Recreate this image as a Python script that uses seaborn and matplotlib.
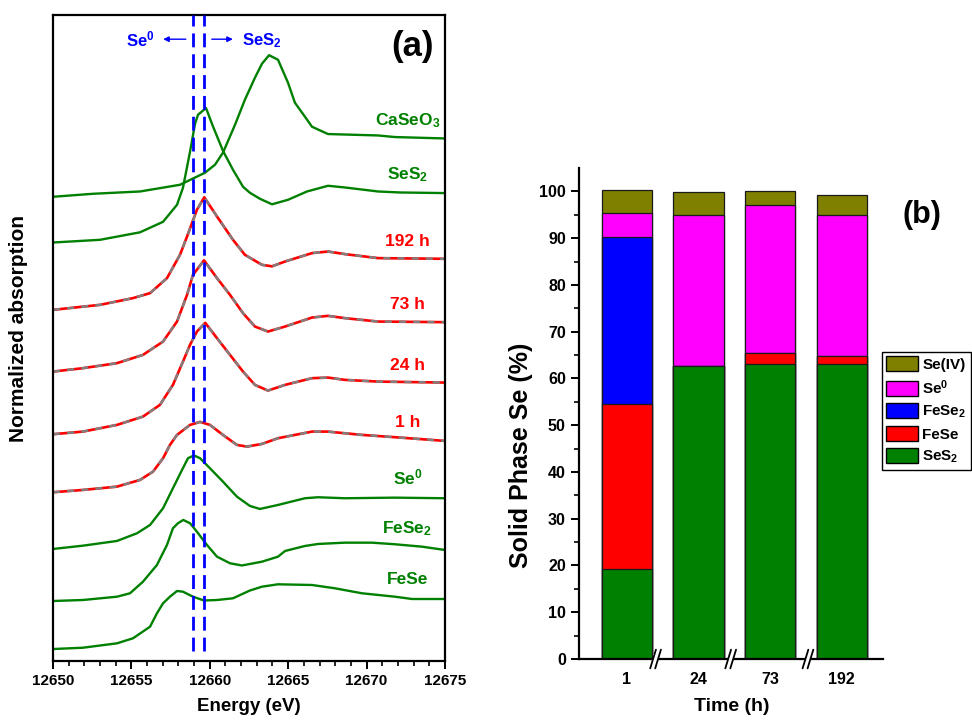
import matplotlib
matplotlib.use("Agg")
import pandas as pd
import seaborn as sns
import matplotlib.pyplot as plt
from matplotlib.patches import Patch, Rectangle

# ---- (a) Se K-edge XANES, stacked curves (energy in eV, normalized absorption + offset)
caseo3_e = [12650.0, 12652.55, 12655.55, 12658.10, 12659.69, 12660.33, 12660.84, 12661.61, 12662.24,
            12662.88, 12663.33, 12663.78, 12664.35, 12664.99, 12665.43, 12666.07, 12666.52, 12667.54,
            12670.73, 12671.81, 12675.0]
caseo3_a = [4.64, 4.67, 4.693, 4.76, 4.88, 4.96, 5.08, 5.36, 5.61, 5.83, 5.97, 6.055, 6.01, 5.78, 5.58,
            5.44, 5.34, 5.267, 5.253, 5.237, 5.223]

ses2_e = [12650.0, 12653.0, 12655.55, 12657.02, 12657.91, 12658.29, 12658.74, 12659.06, 12659.25, 12659.76,
          12660.2, 12660.84, 12661.48, 12662.12, 12662.56, 12663.2, 12663.97, 12664.99, 12666.2, 12667.54,
          12668.62, 12670.73, 12672.13, 12675.0]
ses2_a = [4.183, 4.21, 4.285, 4.39, 4.56, 4.73, 5.09, 5.37, 5.46, 5.527, 5.345, 5.10, 4.91, 4.74, 4.68,
          4.62, 4.565, 4.61, 4.693, 4.75, 4.733, 4.693, 4.683, 4.677]

h192_e = [12650.0, 12653.0, 12655.10, 12656.19, 12657.27, 12658.10, 12658.55, 12659.18, 12659.65, 12660.46,
          12661.48, 12662.24, 12663.33, 12663.97, 12664.80, 12666.52, 12667.54, 12668.62, 12670.73, 12675.0]
h192_a = [3.51, 3.56, 3.627, 3.677, 3.827, 4.06, 4.243, 4.51, 4.635, 4.443, 4.21, 4.06, 3.96, 3.945, 3.993,
          4.077, 4.093, 4.067, 4.027, 4.02]

h73_e = [12650.0, 12651.91, 12654.08, 12655.74, 12657.02, 12657.91, 12658.55, 12658.93, 12659.63, 12660.46,
         12661.29, 12662.12, 12662.88, 12663.71, 12664.80, 12666.52, 12667.54, 12668.62, 12670.73, 12675.0]
h73_a = [2.893, 2.927, 2.977, 3.06, 3.193, 3.393, 3.66, 3.86, 4.005, 3.827, 3.66, 3.477, 3.343, 3.293, 3.343,
         3.433, 3.45, 3.427, 3.393, 3.387]

h24_e = [12650.0, 12651.91, 12654.08, 12655.74, 12656.82, 12657.65, 12658.29, 12658.74, 12659.18, 12659.71,
         12660.46, 12661.29, 12662.12, 12662.88, 12663.71, 12664.80, 12666.52, 12667.54, 12668.62, 12670.73,
         12675.0]
h24_a = [2.267, 2.293, 2.36, 2.443, 2.56, 2.76, 2.993, 3.16, 3.293, 3.38, 3.227, 3.06, 2.893, 2.76, 2.703,
         2.76, 2.827, 2.833, 2.81, 2.793, 2.783]

h1_e = [12650.0, 12651.91, 12654.08, 12655.55, 12656.38, 12657.02, 12657.46, 12657.91, 12658.74, 12659.38,
        12660.01, 12660.84, 12661.73, 12662.37, 12663.33, 12664.35, 12666.52, 12667.54, 12669.71, 12671.81,
        12675.0]
h1_a = [1.687, 1.71, 1.743, 1.81, 1.893, 2.027, 2.16, 2.26, 2.36, 2.39, 2.36, 2.26, 2.16, 2.143, 2.17, 2.227,
        2.293, 2.293, 2.26, 2.237, 2.20]

se0_e = [12650.0, 12651.91, 12654.08, 12655.36, 12656.19, 12657.02, 12657.65, 12658.23, 12658.61, 12658.99,
         12659.38, 12660.01, 12660.84, 12661.73, 12662.56, 12663.20, 12664.35, 12666.07, 12666.90, 12668.62,
         12671.81, 12675.0]
se0_a = [1.12, 1.153, 1.20, 1.277, 1.36, 1.527, 1.727, 1.91, 2.027, 2.055, 2.027, 1.927, 1.793, 1.643, 1.55,
         1.52, 1.56, 1.627, 1.637, 1.627, 1.633, 1.627]

fese2_e = [12650.0, 12651.91, 12654.08, 12654.91, 12655.74, 12656.63, 12657.27, 12657.65, 12657.97, 12658.31,
           12658.74, 12659.18, 12659.82, 12660.46, 12661.29, 12662.05, 12663.33, 12664.35, 12664.80, 12666.07,
           12666.90, 12668.62, 12670.34, 12671.81, 12673.53, 12675.0]
fese2_a = [0.60, 0.61, 0.643, 0.677, 0.793, 0.96, 1.16, 1.327, 1.377, 1.41, 1.377, 1.293, 1.16, 1.043, 0.977,
           0.955, 0.993, 1.043, 1.10, 1.15, 1.17, 1.183, 1.183, 1.167, 1.143, 1.11]

fese_e = [12650.0, 12651.91, 12654.08, 12655.10, 12656.19, 12656.63, 12657.02, 12657.46, 12657.91, 12658.29,
          12658.93, 12659.63, 12660.46, 12661.48, 12662.56, 12663.33, 12664.35, 12666.52, 12667.98, 12669.71,
          12671.81, 12672.90, 12675.0]
fese_a = [0.12, 0.133, 0.177, 0.227, 0.343, 0.477, 0.577, 0.643, 0.70, 0.693, 0.643, 0.605, 0.61, 0.627, 0.705,
          0.743, 0.767, 0.76, 0.727, 0.677, 0.643, 0.62, 0.62]

edge_lines = [12658.9, 12659.6]  # Se0 / SeS2 white-line positions

# ---- (b) LCF results, solid phase Se (%)
times = ['1', '24', '73', '192']
pct_ses2 = [19.2, 62.6, 63.0, 63.0]
pct_fese = [35.4, 0.0, 2.5, 1.9]
pct_fese2 = [35.7, 0.0, 0.0, 0.0]
pct_se0 = [5.0, 32.4, 31.6, 30.1]
pct_se4 = [5.0, 4.8, 2.9, 4.3]

sns.set_style("ticks")
plt.rcParams['font.family'] = ['Liberation Sans', 'DejaVu Sans']
plt.rcParams['font.weight'] = 'bold'
plt.rcParams['axes.labelweight'] = 'bold'
for key in ['text.color', 'axes.labelcolor', 'xtick.color', 'ytick.color', 'axes.edgecolor']:
    plt.rcParams[key] = 'black'
plt.rcParams['mathtext.fontset'] = 'custom'
plt.rcParams['mathtext.rm'] = 'Liberation Sans:bold'
plt.rcParams['mathtext.bf'] = 'Liberation Sans:bold'
plt.rcParams['mathtext.it'] = 'Liberation Sans:bold'
plt.rcParams['mathtext.default'] = 'bf'
plt.rcParams['lines.solid_joinstyle'] = 'round'
plt.rcParams['lines.dash_joinstyle'] = 'round'

GREEN = '#008000'
fig = plt.figure(figsize=(9.72, 7.2), dpi=100)
ax1 = fig.add_axes([0.0545, 0.0819, 0.4033, 0.8977])
ax2 = fig.add_axes([0.5957, 0.0847, 0.3128, 0.6819])

# ---------------- panel (a)
for e, a in [(caseo3_e, caseo3_a), (ses2_e, ses2_a), (se0_e, se0_a), (fese2_e, fese2_a), (fese_e, fese_a)]:
    sns.lineplot(x=e, y=a, ax=ax1, color=GREEN, lw=1.7)
for e, a in [(h192_e, h192_a), (h73_e, h73_a), (h24_e, h24_a), (h1_e, h1_a)]:
    sns.lineplot(x=e, y=a, ax=ax1, color='red', lw=1.9)
    sns.lineplot(x=e, y=a, ax=ax1, color='gray', lw=1.7, linestyle=(0, (3, 3)))

for xv in edge_lines:
    ax1.axvline(xv, ymin=0.015, ymax=1.0, color='blue', lw=2.0, ls=(0, (5, 2.5)), zorder=5)

ax1.set_xlim(12650, 12675)
ax1.set_ylim(0, 6.46)
ax1.set_xticks(range(12650, 12676, 5))
ax1.set_xticks(range(12650, 12676, 1), minor=True)
ax1.set_yticks([])
ax1.tick_params(axis='x', which='major', direction='out', length=6, width=1.4, labelsize=11, pad=3)
ax1.tick_params(axis='x', which='minor', direction='out', length=3.5, width=1.2)
for s in ax1.spines.values():
    s.set_linewidth(1.6)
ax1.set_xlabel('Energy (eV)', fontsize=13.5)
ax1.xaxis.set_label_coords(0.5, -0.057)
ax1.set_ylabel('Normalized absorption', fontsize=15)
ax1.yaxis.set_label_coords(-0.064, 0.515)

lab_x = 12672.6
curve_labels = [(r'CaSeO$_{3}$', 5.40, GREEN), (r'SeS$_{2}$', 4.86, GREEN), ('192 h', 4.19, 'red'),
                ('73 h', 3.56, 'red'), ('24 h', 2.95, 'red'), ('1 h', 2.38, 'red'),
                (r'Se$^{0}$', 1.83, GREEN), (r'FeSe$_{2}$', 1.32, GREEN), ('FeSe', 0.81, GREEN)]
for txt, yy, c in curve_labels:
    ax1.text(lab_x, yy, txt, color=c, fontsize=12.5, fontweight='bold', ha='center', va='center')

ax1.text(12655.55, 6.215, r'Se$^{0}$', color='blue', fontsize=12, fontweight='bold', ha='center', va='center')
ax1.text(12663.31, 6.20, r'SeS$_{2}$', color='blue', fontsize=12, fontweight='bold', ha='center', va='center')
ax1.annotate('', xy=(12656.85, 6.215), xytext=(12658.65, 6.215),
             arrowprops=dict(arrowstyle='-|>', color='blue', lw=1.0, mutation_scale=8))
ax1.annotate('', xy=(12661.65, 6.215), xytext=(12659.95, 6.215),
             arrowprops=dict(arrowstyle='-|>', color='blue', lw=1.0, mutation_scale=8))
ax1.text(12672.96, 6.14, '(a)', fontsize=25, fontweight='bold', ha='center', va='center')

# ---------------- panel (b), stacked bars
df = pd.DataFrame({'time': times, 'SeS2': pct_ses2, 'FeSe': pct_fese, 'FeSe2': pct_fese2,
                   'Se0': pct_se0, 'SeIV': pct_se4})
layers = [('SeS2', GREEN), ('FeSe', '#ff0000'), ('FeSe2', '#0000ff'), ('Se0', '#ff00ff'), ('SeIV', '#808000')]
cum = df[[k for k, _ in layers]].cumsum(axis=1)
for k, c in reversed(layers):
    sns.barplot(x=df['time'], y=cum[k], order=times, color=c, saturation=1, width=0.7,
                edgecolor='#1a1a1a', linewidth=0.9, ax=ax2)

ax2.set_xlim(-0.67, 3.58)
ax2.set_ylim(0, 105)
ax2.set_yticks(range(0, 101, 10))
ax2.set_yticks(range(0, 105, 5), minor=True)
sns.despine(ax=ax2)
for s in ['left', 'bottom']:
    ax2.spines[s].set_linewidth(1.6)
ax2.tick_params(axis='y', which='major', direction='out', length=6, width=1.4, labelsize=11.5)
ax2.tick_params(axis='y', which='minor', direction='out', length=3.5, width=1.2)
ax2.tick_params(axis='x', length=0, labelsize=11.5, pad=9)
ax2.set_xlabel('Time (h)', fontsize=14)
ax2.xaxis.set_label_coords(0.502, -0.079)
ax2.set_ylabel('Solid Phase Se (%)', fontsize=18)
ax2.yaxis.set_label_coords(-0.151, 0.415)

# axis-break marks
for xb in [0.40, 1.45, 2.53]:
    ax2.add_patch(Rectangle((xb - 0.035, -1.0), 0.07, 2.0, facecolor='white', edgecolor='none',
                            clip_on=False, zorder=6))
    for dx in (-0.035, 0.035):
        ax2.plot([xb + dx - 0.04, xb + dx + 0.04], [-2.0, 2.0], color='black', lw=1.3,
                 clip_on=False, zorder=7)

handles = [Patch(facecolor='#808000', edgecolor='black', label='Se(IV)'),
           Patch(facecolor='#ff00ff', edgecolor='black', label=r'Se$^{0}$'),
           Patch(facecolor='#0000ff', edgecolor='black', label=r'FeSe$_{2}$'),
           Patch(facecolor='#ff0000', edgecolor='black', label='FeSe'),
           Patch(facecolor=GREEN, edgecolor='black', label=r'SeS$_{2}$')]
leg = fig.legend(handles=handles, loc='upper left', bbox_to_anchor=(881.7 / 972, 1 - 351.7 / 720),
                 frameon=True, fancybox=False, edgecolor='black', framealpha=1, fontsize=11,
                 handlelength=2.1, handleheight=1.15, labelspacing=0.4, handletextpad=0.25,
                 borderpad=0.3, borderaxespad=0)
leg.get_frame().set_linewidth(1.0)

fig.text(921.7 / 972, 1 - 215 / 720, '(b)', fontsize=22, fontweight='bold', ha='center', va='center')

fig.savefig('out.png', dpi=100)
